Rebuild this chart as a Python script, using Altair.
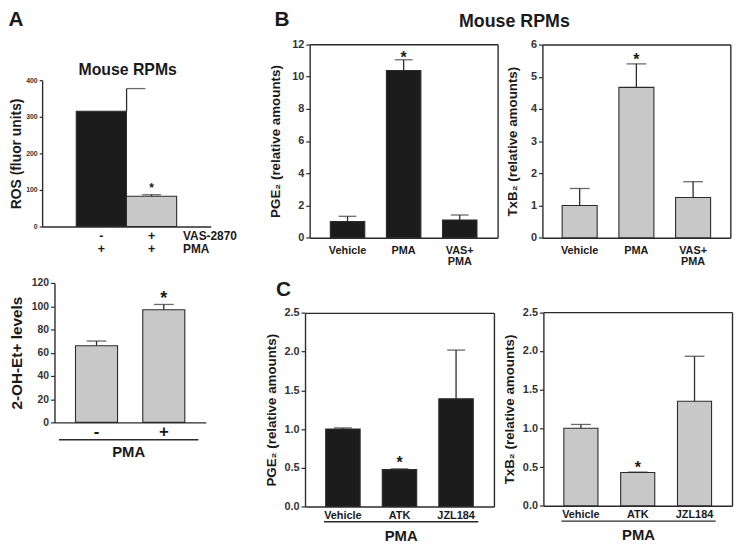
import altair as alt
import pandas as pd

# ---------------- values ----------------
# A (top): ROS, rows of the x labels = VAS-2870 / PMA
a1_cats = ["-|+", "+|+"]
a1_vals = [315, 83]
a1_errs = [62, 4]
a1_star = ["", "*"]
a1_ticks = [0, 100, 200, 300, 400]

# A (bottom): 2-OH-Et+ levels
a2_cats = ["-", "+"]
a2_vals = [66, 97]
a2_errs = [4, 4.5]
a2_star = ["", "*"]
a2_ticks = [0, 20, 40, 60, 80, 100, 120]

# B: mouse RPMs
b_cats = ["Vehicle", "PMA", "VAS+|PMA"]
b_star = ["", "*", ""]
b1_vals = [1.0, 10.37, 1.10]      # PGE2
b1_errs = [0.33, 0.67, 0.31]
b1_ticks = [0, 2, 4, 6, 8, 10, 12]
b2_vals = [1.0, 4.67, 1.25]       # TxB2
b2_errs = [0.53, 0.73, 0.49]
b2_ticks = [0, 1, 2, 3, 4, 5, 6]

# C
c_cats = ["Vehicle", "ATK", "JZL184"]
c_star = ["", "*", ""]
c1_vals = [1.0, 0.476, 1.39]      # PGE2
c1_errs = [0.015, 0.01, 0.63]
c2_vals = [1.0, 0.43, 1.35]       # TxB2
c2_errs = [0.05, 0.005, 0.58]
c_ticks = [0.0, 0.5, 1.0, 1.5, 2.0, 2.5]

# ---------------- style / layout ----------------
BLACK = "#1c1c1c"
GRAY = "#c8c8c8"
INK = "#2b2b2b"
TXT = "#1a1a1a"
FONT = "Liberation Sans"
W, H = 734, 540
M = 8


def px(v):
    return v - M


def make_df(cats, vals, errs, stars, fills):
    return pd.DataFrame({
        "cat": cats,
        "value": vals,
        "top": [v + e for v, e in zip(vals, errs)],
        "star": stars,
        "fill": fills,
    })


def panel(df, cats, L):
    xs = alt.Scale(type="band", domain=cats, range=[px(L["x0"]), px(L["x1"])],
                   paddingInner=L["pi"], paddingOuter=L["po"])
    ys = alt.Scale(type="linear", domain=L["ydom"], range=[px(L["yb"]), px(L["yt"])],
                   nice=False, zero=True)
    xaxis = alt.Axis(orient="bottom", offset=px(L["yb"]) - H, title=None, ticks=False,
                     domain=True, domainColor=INK, domainWidth=1.4,
                     labelExpr="split(datum.label, '|')", labelFontSize=L["xlfs"],
                     labelPadding=L["xlpad"], labelLineHeight=L["xllh"], labelAngle=0,
                     labelColor=TXT)
    yaxis = alt.Axis(orient="left", offset=-px(L["x0"]), values=L["yticks"], format=L["fmt"],
                     grid=False, tickSize=L["ts"], tickColor=INK, tickWidth=1.2,
                     domainColor=INK, domainWidth=1.4, labelFontSize=L["ylfs"],
                     labelPadding=2, labelColor="#333333",
                     title=L["ytitle"], titleFontSize=L["ytfs"], titleColor=TXT,
                     titleX=L["tx"] - L["x0"], titleY=px((L["yb"] + L["yt"]) / 2),
                     titleBaseline="middle", titleAlign="center", titleAngle=270)
    xn = alt.X("cat:N", scale=xs, axis=None)
    layers = []
    layers.append(alt.Chart(df).mark_bar(stroke=INK, strokeWidth=1.1).encode(
        x=alt.X("cat:N", scale=xs, axis=xaxis),
        y=alt.Y("value:Q", scale=ys, axis=yaxis),
        color=alt.Color("fill:N", scale=None),
    ))
    for flt, rdx, cdx in L.get("errgroups", [(None, 0, 0)]):
        base = alt.Chart(df)
        if flt is not None:
            base = base.transform_filter(flt)
        layers.append(base.mark_rule(color=INK, strokeWidth=1.3, xOffset=rdx).encode(
            x=xn, y=alt.Y("value:Q", scale=ys, axis=None), y2="top:Q"))
        layers.append(base.mark_tick(color=INK, thickness=1.3, size=L["cap"],
                                     orient="horizontal", xOffset=cdx).encode(
            x=xn, y=alt.Y("top:Q", scale=ys, axis=None)))
    layers.append(alt.Chart(df).mark_text(font=FONT, fontWeight="bold", fontSize=L["sfs"],
                                          baseline="alphabetic", dy=L["sdy"], color=TXT).encode(
        x=xn, y=alt.Y("top:Q", scale=ys, axis=None), text="star:N"))
    if L.get("box"):
        layers.append(alt.Chart(df).mark_point(opacity=0).encode(
            x=alt.X("cat:N", scale=xs, axis=alt.Axis(orient="top", offset=-px(L["yt"]),
                    labels=False, ticks=False, title=None, domainColor=INK, domainWidth=1.4)),
            y=alt.Y("value:Q", scale=ys, axis=alt.Axis(orient="right", offset=px(L["x1"]) - W,
                    labels=False, ticks=False, title=None, grid=False,
                    domainColor=INK, domainWidth=1.4)),
        ))
    if L.get("under"):
        u0, u1, uy, tp = L["under"]
        us = alt.Scale(type="band", domain=cats, range=[px(u0), px(u1)])
        layers.append(alt.Chart(df).mark_point(opacity=0).encode(
            x=alt.X("cat:N", scale=us, axis=alt.Axis(orient="bottom", offset=px(uy) - H,
                    labels=False, ticks=False, domainColor=INK, domainWidth=1.4,
                    title="PMA", titleFontSize=15, titlePadding=tp, titleColor=TXT)),
            y=alt.value(0),
        ))
    return layers


def note(text, x, y, size, align="center"):
    return alt.Chart(pd.DataFrame({"t": [text]})).mark_text(
        font=FONT, fontWeight="bold", fontSize=size, align=align,
        baseline="alphabetic", color=TXT).encode(
        text="t:N", x=alt.value(px(x)), y=alt.value(px(y)))


layers = []

# A top
df = make_df(a1_cats, a1_vals, a1_errs, a1_star, [BLACK, GRAY])
layers += panel(df, a1_cats, dict(
    x0=42.5, x1=213, pi=0.0, po=0.68, yb=226, yt=78, ydom=[0, 400], yticks=a1_ticks,
    fmt="d", ts=3, ylfs=7, ytitle="ROS (fluor units)", ytfs=14, tx=17,
    xlfs=12.5, xlpad=3, xllh=13, cap=19, sfs=12, sdy=-3,
    errgroups=[(alt.datum.cat == a1_cats[0], 25.5, 35),
               (alt.datum.cat == a1_cats[1], 0, 0)]))

# A bottom
df = make_df(a2_cats, a2_vals, a2_errs, a2_star, [GRAY, GRAY])
layers += panel(df, a2_cats, dict(
    x0=55, x1=208, pi=0.375, po=0.3125, yb=424, yt=283, ydom=[0, 120], yticks=a2_ticks,
    fmt="d", ts=4, ylfs=10.5, ytitle="2-OH-Et+ levels", ytfs=15.5, tx=16.5,
    xlfs=17, xlpad=1, xllh=17, cap=20, sfs=18, sdy=-0.7,
    under=(59, 200, 441, 5.5)))

# B1
df = make_df(b_cats, b1_vals, b1_errs, b_star, [BLACK] * 3)
layers += panel(df, b_cats, dict(
    x0=313, x1=503, pi=0.386, po=0.368, yb=237.3, yt=41.7, ydom=[0, 12], yticks=b1_ticks,
    fmt="d", ts=4, ylfs=11, ytitle="PGE\u2082 (relative amounts)", ytfs=13.5, tx=278.3,
    xlfs=11, xlpad=7, xllh=11.5, cap=18, sfs=16, sdy=3.6, box=True))

# B2
df = make_df(b_cats, b2_vals, b2_errs, b_star, [GRAY] * 3)
layers += panel(df, b_cats, dict(
    x0=548.3, x1=738.3, pi=0.383, po=0.348, yb=237.3, yt=42, ydom=[0, 6], yticks=b2_ticks,
    fmt="d", ts=4, ylfs=11, ytitle="TxB\u2082 (relative amounts)", ytfs=13.5, tx=518.5,
    xlfs=11, xlpad=7, xllh=11.5, cap=20, sfs=16, sdy=0.9, box=True))

# C1
df = make_df(c_cats, c1_vals, c1_errs, c_star, [BLACK] * 3)
layers += panel(df, c_cats, dict(
    x0=308.3, x1=499.3, pi=0.391, po=0.365, yb=509, yt=313.3, ydom=[0, 2.5], yticks=c_ticks,
    fmt=".1f", ts=4, ylfs=11, ytitle="PGE\u2082 (relative amounts)", ytfs=13.5, tx=274.5,
    xlfs=11, xlpad=3, xllh=11.5, cap=18, sfs=16, sdy=-0.4, box=True,
    under=(327, 483, 524, 7.5)))

# C2
df = make_df(c_cats, c2_vals, c2_errs, c_star, [GRAY] * 3)
layers += panel(df, c_cats, dict(
    x0=549.3, x1=740, pi=0.4, po=0.36, yb=508.3, yt=312.5, ydom=[0, 2.5], yticks=c_ticks,
    fmt=".1f", ts=4, ylfs=11, ytitle="TxB\u2082 (relative amounts)", ytfs=13.5, tx=515,
    xlfs=11, xlpad=3, xllh=11.5, cap=20, sfs=16, sdy=0.9, box=True,
    under=(567, 723, 523.3, 7)))

# annotations
layers += [
    note("A", 16, 23.5, 21),
    note("B", 285, 23.5, 21),
    note("C", 286.5, 296, 21),
    note("Mouse RPMs", 129, 72.7, 16),
    note("Mouse RPMs", 520, 24, 18),
    note("VAS-2870", 185, 239.6, 12, align="left"),
    note("PMA", 185, 252.6, 12, align="left"),
]

chart = alt.layer(*layers).resolve_scale(
    x="independent", y="independent"
).properties(
    width=W, height=H, autosize=alt.AutoSizeParams(type="none"), padding=0
).configure_view(stroke=None).configure_axis(
    labelFont=FONT, titleFont=FONT, labelFontWeight="bold", titleFontWeight="bold", grid=False
)

chart.save("out.html", embed_options={"renderer": "svg", "actions": False})
